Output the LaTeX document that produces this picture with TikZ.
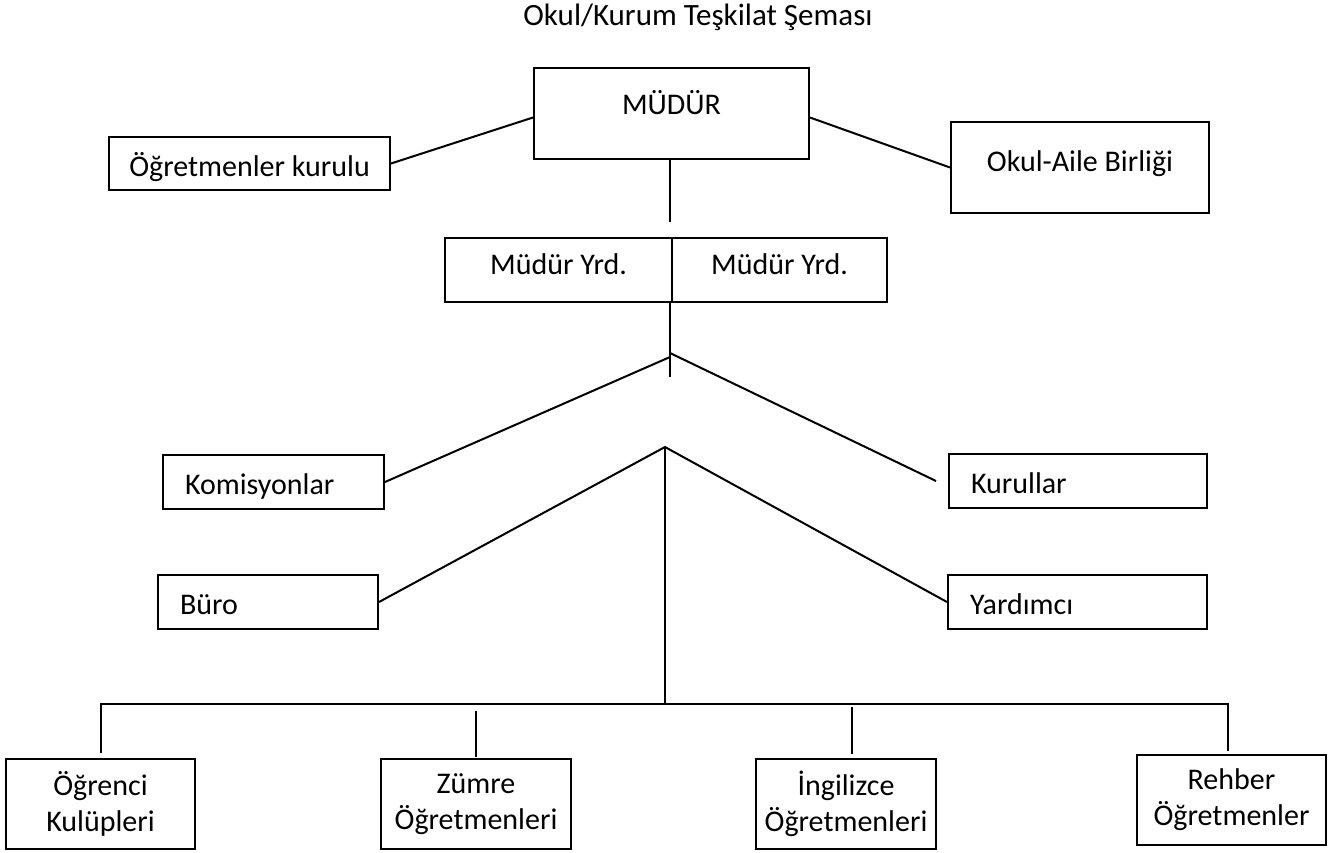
\documentclass[tikz,border=0pt]{standalone}
\usepackage{fontspec}
\setmainfont{Carlito}
\usetikzlibrary{positioning,calc}

\begin{document}
\begin{tikzpicture}[
    x=1pt, y=-1pt,
    every node/.style={font=\fontsize{30}{36}\selectfont},
    birim/.style={draw, line width=2pt, inner sep=0pt, anchor=north west},
    solbirim/.style={birim, align=left, inner xsep=22pt, text height=39pt, text depth=15pt},
    altbirim/.style={birim, align=center, minimum height=90pt},
    hat/.style={line width=2pt}
]
    \useasboundingbox (0,0) rectangle (1330,852);

    % Baslik
    \node[anchor=base, font=\fontsize{31}{37}\selectfont] (baslik) at (698,25) {Okul/Kurum Teşkilat Şeması};

    % Ust kademe
    \node[birim, minimum width=275pt, text height=46pt, text depth=45pt] (mudur) at (533,67) {MÜDÜR};
    \node[birim, minimum width=281pt, text height=39pt, text depth=14pt] (ogrkurul) at (108,136) {Öğretmenler kurulu};
    \node[birim, minimum width=258pt, text height=49pt, text depth=42pt] (okulaile) at (950,121) {Okul-Aile Birliği};

    % Mudur yardimcilari
    \node[birim, minimum width=227pt, text height=36pt, text depth=28pt] (yrdA) at (444,237) {Müdür Yrd.};
    \node[birim, minimum width=215pt, text height=36pt, text depth=28pt] (yrdB) at (671,237) {Müdür Yrd.};

    % Orta kademe
    \node[solbirim, text width=177pt] (komisyon) at (162,454) {Komisyonlar};
    \node[solbirim, text width=214pt] (kurullar) at (948,453) {Kurullar};
    \node[solbirim, text width=176pt] (buro) at (157,574) {Büro};
    \node[solbirim, text width=215pt] (yardimci) at (947,574) {Yardımcı};

    % Alt kademe
    \node[altbirim, minimum width=189pt] (ogrenci) at (5,758) {Öğrenci\\Kulüpleri};
    \node[altbirim, minimum width=190pt] (zumre) at (380,758) {Zümre\\Öğretmenleri};
    \node[altbirim, minimum width=180pt] (ingilizce) at (755,758) {İngilizce\\Öğretmenleri};
    \node[altbirim, minimum width=189pt] (rehber) at (1136,754) {Rehber\\Öğretmenler};

    % Bos uclar
    \coordinate (m1) at (670,222);
    \coordinate (v1) at (670,377);
    \coordinate (kol) at (670,357);
    \coordinate (kor) at (670,353);
    \coordinate (tepe) at (665,447);
    \coordinate (hatorta) at (665,704);
    \coordinate (zt) at (476,711);
    \coordinate (it) at (852,707);

    % Baglantilar
    \draw[hat] (ogrkurul.east) -- ([yshift=-4pt]mudur.west);
    \draw[hat] ([yshift=-4pt]mudur.east) -- (okulaile.west);
    \draw[hat] (m1 |- mudur.south) -- (m1);
    \draw[hat] (v1 |- yrdA.south east) -- (v1);
    \draw[hat] (kol) -- (komisyon.east);
    \draw[hat] (kor) -- ([xshift=-12pt]kurullar.west);
    \draw[hat] (buro.east) -- (tepe) -- (yardimci.west);
    \draw[hat] (tepe) -- (hatorta);
    \draw[hat] ([yshift=5pt]ogrenci.north) |- (hatorta) -| ([xshift=-4pt,yshift=3pt]rehber.north);
    \draw[hat] (zt) -- ([yshift=1pt]zt |- zumre.north);
    \draw[hat] (it) -- ([yshift=4pt]it |- ingilizce.north);

\end{tikzpicture}
\end{document}
